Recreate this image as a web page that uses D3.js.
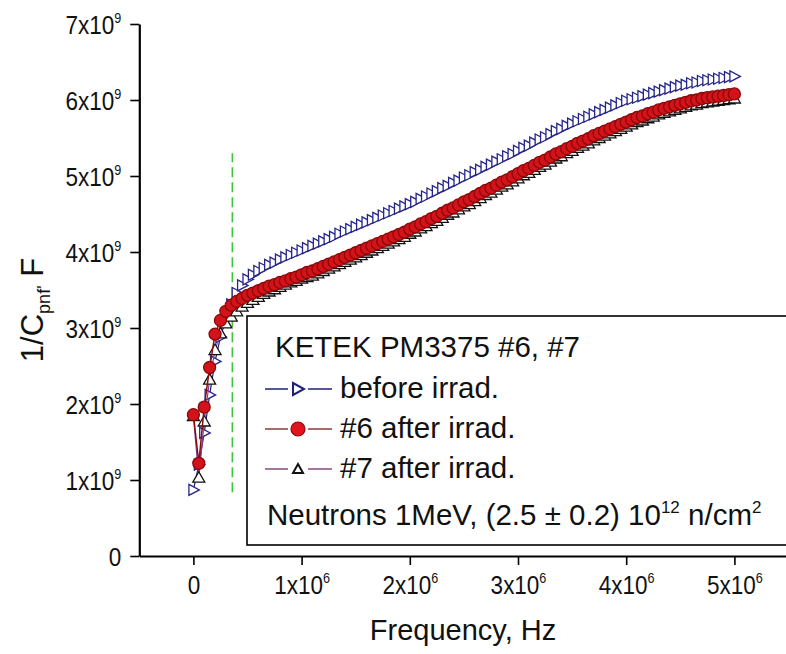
<!DOCTYPE html>
<html>
<head>
<meta charset="utf-8">
<script src="https://cdn.jsdelivr.net/npm/d3@7"></script>
<style>
  body { margin: 0; background: #fff; }
  svg text { font-family: "Liberation Sans", Arial, sans-serif; fill: #111; }
</style>
</head>
<body>
<div id="chart"></div>
<script>
// frequency in MHz (x), 1/C in units of 1e9 F^-1 (y)
const freqMHz = [
  0, 0.05, 0.1, 0.15, 0.2, 0.25, 0.3, 0.35, 0.4, 0.45,
  0.5, 0.55, 0.6, 0.65, 0.7, 0.75, 0.8, 0.85, 0.9, 0.95,
  1.0, 1.05, 1.1, 1.15, 1.2, 1.25, 1.3, 1.35, 1.4, 1.45,
  1.5, 1.55, 1.6, 1.65, 1.7, 1.75, 1.8, 1.85, 1.9, 1.95,
  2.0, 2.05, 2.1, 2.15, 2.2, 2.25, 2.3, 2.35, 2.4, 2.45,
  2.5, 2.55, 2.6, 2.65, 2.7, 2.75, 2.8, 2.85, 2.9, 2.95,
  3.0, 3.05, 3.1, 3.15, 3.2, 3.25, 3.3, 3.35, 3.4, 3.45,
  3.5, 3.55, 3.6, 3.65, 3.7, 3.75, 3.8, 3.85, 3.9, 3.95,
  4.0, 4.05, 4.1, 4.15, 4.2, 4.25, 4.3, 4.35, 4.4, 4.45,
  4.5, 4.55, 4.6, 4.65, 4.7, 4.75, 4.8, 4.85, 4.9, 4.95,
  5.0
];

const beforeIrrad = [
  0.87, 1.20, 1.62, 2.12, 2.56, 2.88, 3.12, 3.31, 3.46, 3.56,
  3.64, 3.70, 3.75, 3.79, 3.83, 3.86, 3.90, 3.93, 3.96, 3.99,
  4.02, 4.05, 4.08, 4.11, 4.14, 4.17, 4.20, 4.24, 4.27, 4.30,
  4.33, 4.36, 4.39, 4.42, 4.45, 4.48, 4.51, 4.54, 4.57, 4.60,
  4.63, 4.66, 4.70, 4.73, 4.77, 4.80, 4.84, 4.87, 4.91, 4.94,
  4.98, 5.01, 5.05, 5.08, 5.12, 5.15, 5.19, 5.22, 5.26, 5.29,
  5.33, 5.37, 5.40, 5.44, 5.48, 5.51, 5.55, 5.59, 5.62, 5.66,
  5.69, 5.72, 5.75, 5.78, 5.81, 5.84, 5.87, 5.90, 5.93, 5.96,
  5.99, 6.01, 6.03, 6.05, 6.07, 6.09, 6.11, 6.13, 6.15, 6.17,
  6.19, 6.20, 6.22, 6.23, 6.25, 6.26, 6.27, 6.28, 6.29, 6.30,
  6.31
];

const after6 = [
  1.86, 1.22, 1.96, 2.48, 2.92, 3.10, 3.22, 3.30, 3.35, 3.39,
  3.43, 3.46, 3.49, 3.52, 3.55, 3.57, 3.60, 3.62, 3.65, 3.67,
  3.70, 3.73, 3.75, 3.78, 3.81, 3.84, 3.87, 3.90, 3.93, 3.96,
  3.99, 4.02, 4.05, 4.08, 4.11, 4.14, 4.17, 4.20, 4.23, 4.26,
  4.30, 4.33, 4.37, 4.40, 4.44, 4.47, 4.51, 4.55, 4.58, 4.62,
  4.66, 4.69, 4.73, 4.77, 4.81, 4.84, 4.88, 4.92, 4.95, 4.99,
  5.03, 5.07, 5.10, 5.14, 5.18, 5.21, 5.25, 5.29, 5.32, 5.36,
  5.39, 5.43, 5.46, 5.49, 5.53, 5.56, 5.59, 5.62, 5.65, 5.68,
  5.71, 5.74, 5.77, 5.79, 5.82, 5.84, 5.87, 5.89, 5.91, 5.93,
  5.95, 5.97, 5.99, 6.00, 6.02, 6.03, 6.04, 6.05, 6.06, 6.07,
  6.08
];

const after7 = [
  1.84, 1.03, 1.77, 2.32, 2.71, 2.93, 3.06, 3.15, 3.22, 3.28,
  3.33, 3.37, 3.41, 3.45, 3.48, 3.51, 3.54, 3.57, 3.60, 3.62,
  3.65, 3.67, 3.69, 3.72, 3.75, 3.78, 3.81, 3.84, 3.87, 3.90,
  3.93, 3.96, 3.99, 4.02, 4.05, 4.08, 4.11, 4.14, 4.17, 4.20,
  4.24, 4.27, 4.31, 4.34, 4.38, 4.41, 4.45, 4.49, 4.52, 4.56,
  4.60, 4.63, 4.67, 4.71, 4.75, 4.78, 4.82, 4.86, 4.89, 4.93,
  4.97, 5.01, 5.04, 5.08, 5.12, 5.15, 5.19, 5.23, 5.26, 5.30,
  5.33, 5.37, 5.40, 5.43, 5.47, 5.50, 5.53, 5.56, 5.59, 5.62,
  5.65, 5.68, 5.71, 5.73, 5.76, 5.78, 5.81, 5.83, 5.85, 5.87,
  5.89, 5.91, 5.93, 5.94, 5.96, 5.97, 5.98, 5.99, 6.00, 6.01,
  6.02
];

const xMajor = [0, 1, 2, 3, 4, 5];
const xMinor = [0.5, 1.5, 2.5, 3.5, 4.5];
const yMajor = [0, 1, 2, 3, 4, 5, 6, 7];
const yMinor = [0.5, 1.5, 2.5, 3.5, 4.5, 5.5, 6.5];

const legendTitle = "KETEK PM3375 #6, #7";
const legendLabels = ["before irrad.", "#6 after irrad.", "#7 after irrad."];

// green dashed marker
const cutoffFreq = 0.36;
const cutoffRange = [0.84, 5.3];

let svg = d3.select("#chart").append("svg")
  .attr("width", 786)
  .attr("height", 654);

let xScale = d3.scaleLinear().domain([-0.5, 5.5]).range([139.3, 788.5]),
  yScale = d3.scaleLinear().domain([0, 7]).range([556, 24]);

// axes
let gx = svg.append("g").attr("transform", "translate(0,556)");
gx.call(d3.axisBottom(xScale).tickValues(xMinor).tickSize(5).tickSizeOuter(0).tickFormat(""));
gx.call(d3.axisBottom(xScale).tickValues(xMajor).tickSize(9).tickSizeOuter(0).tickFormat(""));

let gy = svg.append("g").attr("transform", "translate(139.3,0)");
gy.call(d3.axisLeft(yScale).tickValues(yMinor).tickSize(5).tickSizeOuter(0).tickFormat(""));
gy.call(d3.axisLeft(yScale).tickValues(yMajor).tickSize(9).tickSizeOuter(0).tickFormat(""));

svg.selectAll(".domain").attr("stroke", "#000").attr("stroke-width", 2.2);
svg.selectAll(".tick line").attr("stroke", "#000").attr("stroke-width", 1.6);
svg.selectAll(".tick text").remove();

// tick labels like "1x10^6"
function tickLabel(sel, v, exp) {
  if (v === 0) {
    sel.text("0");
    return;
  }
  sel.append("tspan").text(v + "x10");
  sel.append("tspan").attr("dy", -11).attr("font-size", 14).text(exp);
}

gx.selectAll(".tick").filter(d => xMajor.includes(d)).each(function (d) {
  let t = d3.select(this).append("text")
    .attr("transform", "translate(0,38) scale(0.9,1)")
    .attr("text-anchor", "middle")
    .attr("font-size", 25);
  tickLabel(t, d, "6");
});

gy.selectAll(".tick").filter(d => yMajor.includes(d)).each(function (d) {
  let t = d3.select(this).append("text")
    .attr("transform", "translate(-18,9) scale(0.9,1)")
    .attr("text-anchor", "end")
    .attr("font-size", 25);
  tickLabel(t, d, "9");
});

// axis titles
svg.append("text")
  .attr("x", 463).attr("y", 640)
  .attr("text-anchor", "middle")
  .attr("font-size", 29)
  .text("Frequency, Hz");

let yt = svg.append("text")
  .attr("transform", "translate(43,310) rotate(-90)")
  .attr("text-anchor", "middle")
  .attr("font-size", 31);
yt.append("tspan").text("1/C");
yt.append("tspan").attr("font-size", 18).attr("dy", 7).text("pnf'");
yt.append("tspan").attr("dy", -7).text(" F");

// green dashed vertical line
svg.append("line")
  .attr("x1", xScale(cutoffFreq)).attr("x2", xScale(cutoffFreq))
  .attr("y1", yScale(cutoffRange[0])).attr("y2", yScale(cutoffRange[1]))
  .attr("stroke", "#3cc43c")
  .attr("stroke-width", 1.6)
  .attr("stroke-dasharray", "10,5");

// marker shapes
const triRight = "M-4.5,-5.5L6,0L-4.5,5.5Z";
const triUp = "M0,-6L6,4.5L-6,4.5Z";

function drawSeries(values, lineColor, lineWidth, marker) {
  let pts = freqMHz.map((f, i) => [f, values[i]]);
  let line = d3.line().x(d => xScale(d[0])).y(d => yScale(d[1]));
  svg.append("path")
    .datum(pts)
    .attr("d", line)
    .attr("fill", "none")
    .attr("stroke", lineColor)
    .attr("stroke-width", lineWidth);
  let g = svg.append("g");
  if (marker === "circle") {
    g.selectAll("circle").data(pts).enter().append("circle")
      .attr("cx", d => xScale(d[0]))
      .attr("cy", d => yScale(d[1]))
      .attr("r", 6)
      .attr("fill", "#d4121a")
      .attr("stroke", "#8a0808")
      .attr("stroke-width", 1.3);
  } else {
    g.selectAll("path").data(pts).enter().append("path")
      .attr("d", marker === "right" ? triRight : triUp)
      .attr("transform", d => "translate(" + xScale(d[0]) + "," + yScale(d[1]) + ")")
      .attr("fill", "#fff")
      .attr("stroke", marker === "right" ? "#26268a" : "#111")
      .attr("stroke-width", 1.3);
  }
}

drawSeries(beforeIrrad, "#1f1f80", 1.2, "right");
drawSeries(after7, "#8a3c9a", 1.2, "up");
drawSeries(after6, "#8a0a0a", 1.5, "circle");

// legend box
svg.append("rect")
  .attr("x", 247).attr("y", 316)
  .attr("width", 560).attr("height", 229)
  .attr("fill", "#fff")
  .attr("stroke", "#000")
  .attr("stroke-width", 1.6);

svg.append("text")
  .attr("x", 275).attr("y", 357)
  .attr("font-size", 29.5)
  .text(legendTitle);

const legendColors = ["#1f1f80", "#8a3a3a", "#8a4a7a"];
const legendMarkers = ["right", "circle", "up"];
legendLabels.forEach((lab, i) => {
  let cy = 389 + i * 40;
  let lg = svg.append("g");
  lg.append("line").attr("x1", 265).attr("x2", 288).attr("y1", cy).attr("y2", cy)
    .attr("stroke", legendColors[i]).attr("stroke-width", 1.5);
  lg.append("line").attr("x1", 308).attr("x2", 332).attr("y1", cy).attr("y2", cy)
    .attr("stroke", legendColors[i]).attr("stroke-width", 1.5);
  if (legendMarkers[i] === "circle") {
    lg.append("circle").attr("cx", 298).attr("cy", cy).attr("r", 7)
      .attr("fill", "#e2141c").attr("stroke", "#8a0a0a").attr("stroke-width", 1.2);
  } else {
    lg.append("path")
      .attr("d", legendMarkers[i] === "right" ? "M-5,-6L6,0L-5,6Z" : "M0,-5L5,4L-5,4Z")
      .attr("transform", "translate(298," + cy + ")")
      .attr("fill", "#fff")
      .attr("stroke", legendMarkers[i] === "right" ? "#1f1f80" : "#111")
      .attr("stroke-width", 2);
  }
  lg.append("text").attr("x", 340).attr("y", cy + 9)
    .attr("font-size", 29.5)
    .text(lab);
});

let nt = svg.append("text")
  .attr("x", 267).attr("y", 525)
  .attr("font-size", 29.5);
nt.append("tspan").text("Neutrons 1MeV, (2.5 \u00b1 0.2) 10");
nt.append("tspan").attr("font-size", 17).attr("dy", -12).text("12");
nt.append("tspan").attr("dy", 12).text(" n/cm");
nt.append("tspan").attr("font-size", 17).attr("dy", -12).text("2");
</script>
</body>
</html>
